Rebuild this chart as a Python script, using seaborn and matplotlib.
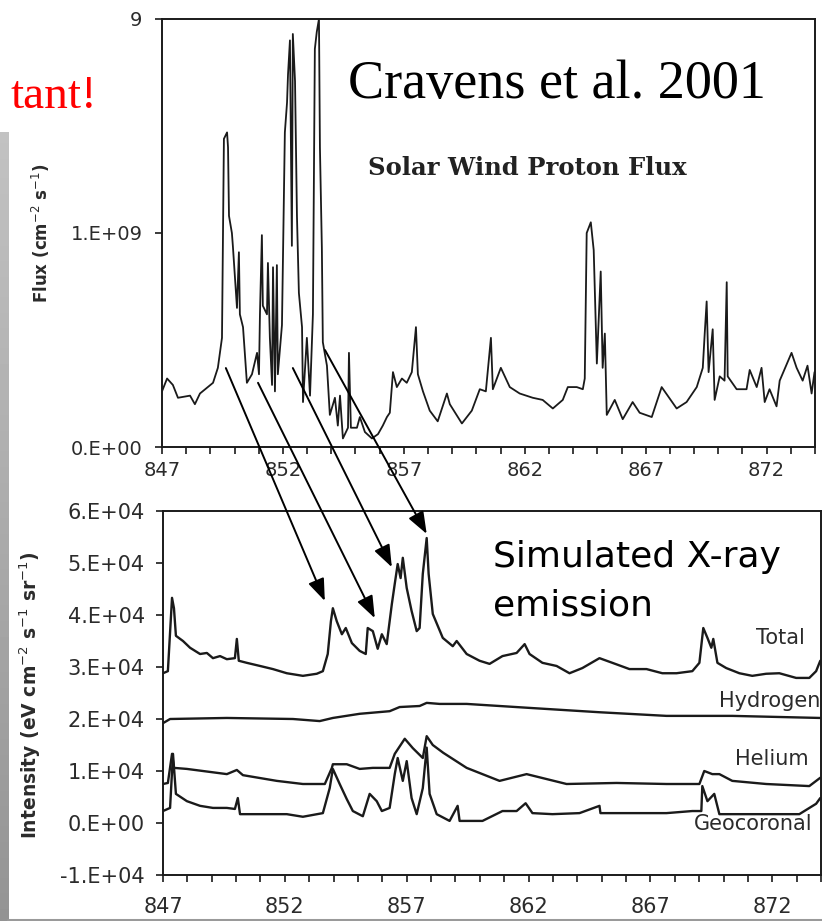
import numpy as np
import pandas as pd
import matplotlib
matplotlib.use("Agg")
import matplotlib.pyplot as plt
import seaborn as sns
from matplotlib.patches import ConnectionPatch
from matplotlib.lines import Line2D

# ---------------- data ----------------
# Top panel: solar wind proton flux (units of 1e9 cm^-2 s^-1) vs day
day_top = [847.00, 847.21, 847.45, 847.66, 848.16, 848.36, 848.57, 849.11, 849.31, 849.48,
           849.56, 849.69, 849.73, 849.77, 849.89, 849.93, 850.10, 850.18, 850.22, 850.35,
           850.51, 850.72, 850.93, 851.01, 851.05, 851.13, 851.17, 851.34, 851.38, 851.46,
           851.55, 851.59, 851.67, 851.75, 851.79, 851.96, 852.08, 852.17, 852.21, 852.29,
           852.37, 852.41, 852.50, 852.58, 852.66, 852.79, 852.83, 852.99, 853.12, 853.24,
           853.32, 853.40, 853.49, 853.53, 853.61, 853.65, 853.82, 853.94, 854.15, 854.27,
           854.36, 854.48, 854.69, 854.73, 854.81, 855.06, 855.18, 855.39, 855.68, 855.93,
           856.13, 856.30, 856.42, 856.55, 856.71, 856.92, 857.12, 857.33, 857.50, 857.58,
           857.79, 858.07, 858.40, 858.78, 858.90, 859.40, 859.81, 860.14, 860.39, 860.60,
           860.68, 861.01, 861.38, 861.79, 862.33, 862.74, 863.16, 863.57, 863.78, 864.15,
           864.40, 864.48, 864.56, 864.73, 864.85, 864.98, 865.14, 865.22, 865.31, 865.39,
           865.72, 866.05, 866.46, 866.75, 867.25, 867.66, 868.28, 868.69, 869.11, 869.36,
           869.44, 869.52, 869.60, 869.77, 869.85, 870.06, 870.26, 870.35, 870.39, 870.76,
           871.17, 871.30, 871.59, 871.79, 871.92, 872.12, 872.41, 872.54, 873.03, 873.24,
           873.49, 873.69, 873.86, 873.98]
flux_e9 = [0.26, 0.32, 0.29, 0.23, 0.24, 0.20, 0.25, 0.30, 0.37, 0.51,
           1.44, 1.47, 1.40, 1.08, 1.00, 0.94, 0.65, 0.91, 0.62, 0.56,
           0.30, 0.34, 0.44, 0.34, 0.62, 0.99, 0.66, 0.62, 0.86, 0.51,
           0.29, 0.84, 0.26, 0.85, 0.34, 0.57, 1.47, 1.61, 1.74, 1.90,
           0.94, 1.93, 1.71, 1.08, 0.72, 0.56, 0.21, 0.51, 0.24, 0.62,
           1.86, 1.94, 2.00, 1.40, 0.93, 0.49, 0.38, 0.15, 0.23, 0.10,
           0.24, 0.04, 0.09, 0.44, 0.09, 0.09, 0.14, 0.07, 0.04, 0.06,
           0.10, 0.14, 0.16, 0.35, 0.28, 0.32, 0.30, 0.35, 0.56, 0.34,
           0.26, 0.17, 0.12, 0.25, 0.20, 0.11, 0.17, 0.27, 0.26, 0.51,
           0.27, 0.37, 0.28, 0.25, 0.23, 0.22, 0.18, 0.22, 0.28, 0.28,
           0.27, 0.32, 1.00, 1.05, 0.92, 0.39, 0.82, 0.37, 0.53, 0.15,
           0.22, 0.13, 0.21, 0.16, 0.14, 0.28, 0.18, 0.21, 0.28, 0.37,
           0.53, 0.68, 0.35, 0.55, 0.22, 0.33, 0.31, 0.77, 0.33, 0.27,
           0.27, 0.36, 0.28, 0.37, 0.21, 0.27, 0.19, 0.31, 0.44, 0.37,
           0.31, 0.38, 0.25, 0.35]

# Bottom panel: simulated X-ray intensity (units of 1e4 eV cm^-2 s^-1 sr^-1)
day_total = [847.00, 847.20, 847.37, 847.45, 847.53, 847.82, 848.11, 848.52, 848.80, 849.05,
             849.34, 849.62, 849.95, 850.03, 850.11, 850.44, 850.98, 851.51, 852.08, 852.74,
             853.31, 853.56, 853.76, 853.89, 853.97, 854.13, 854.34, 854.50, 854.75, 855.07,
             855.32, 855.40, 855.61, 855.81, 855.98, 856.18, 856.39, 856.51, 856.63, 856.75,
             856.84, 857.00, 857.20, 857.41, 857.53, 857.66, 857.82, 857.90, 858.07, 858.48,
             858.89, 859.05, 859.46, 859.99, 860.40, 860.93, 861.51, 861.84, 862.04, 862.57,
             863.15, 863.68, 864.21, 864.91, 865.44, 866.14, 866.84, 867.49, 868.07, 868.72,
             869.01, 869.17, 869.34, 869.50, 869.58, 869.75, 870.11, 870.65, 871.18, 871.75,
             872.29, 872.98, 873.52, 873.80, 873.97]
total_e4 = [2.88, 2.92, 4.33, 4.13, 3.60, 3.50, 3.37, 3.25, 3.27, 3.17,
            3.21, 3.15, 3.17, 3.54, 3.12, 3.08, 3.02, 2.96, 2.88, 2.83,
            2.87, 2.92, 3.25, 3.88, 4.13, 3.88, 3.63, 3.75, 3.46, 3.31,
            3.25, 3.75, 3.69, 3.35, 3.63, 3.44, 4.21, 4.60, 4.98, 4.71,
            5.10, 4.52, 4.08, 3.69, 3.75, 4.79, 5.48, 4.79, 4.02, 3.56,
            3.40, 3.50, 3.25, 3.12, 3.06, 3.21, 3.27, 3.44, 3.25, 3.08,
            3.02, 2.88, 2.98, 3.17, 3.08, 2.96, 2.96, 2.88, 2.88, 2.92,
            3.08, 3.75, 3.56, 3.37, 3.54, 3.08, 2.98, 2.88, 2.83, 2.87,
            2.88, 2.79, 2.79, 2.92, 3.12]

day_hydrogen = [847.00, 847.29, 849.62, 852.33, 853.43, 853.97, 855.07, 856.30, 856.71,
                857.53, 857.82, 858.35, 859.46, 862.16, 864.91, 867.66, 870.36, 873.97]
hydrogen_e4 = [1.92, 2.00, 2.02, 2.00, 1.96, 2.02, 2.10, 2.15, 2.23,
               2.25, 2.31, 2.29, 2.29, 2.21, 2.13, 2.06, 2.06, 2.02]

day_helium = [847.00, 847.20, 847.37, 847.45, 847.98, 849.62, 850.03, 850.28, 851.67, 852.74,
              853.64, 853.93, 853.97, 854.54, 855.07, 855.61, 856.30, 856.51, 856.92, 857.25,
              857.66, 857.82, 858.07, 858.50, 859.46, 860.81, 861.92, 863.56, 865.61, 867.66,
              869.01, 869.21, 869.54, 869.83, 870.36, 871.75, 873.52, 873.97]
helium_e4 = [0.75, 0.77, 1.33, 1.06, 1.04, 0.94, 1.02, 0.92, 0.81, 0.75,
             0.75, 1.06, 1.13, 1.13, 1.04, 1.06, 1.06, 1.33, 1.62, 1.44,
             1.25, 1.67, 1.50, 1.35, 1.06, 0.81, 0.94, 0.75, 0.77, 0.75,
             0.75, 1.00, 0.94, 0.94, 0.81, 0.75, 0.71, 0.87]

day_geo = [847.00, 847.29, 847.41, 847.53, 847.98, 848.52, 849.05, 849.62, 849.95, 850.07,
           850.16, 850.98, 852.08, 852.74, 853.56, 853.84, 853.97, 854.25, 854.54, 854.79,
           855.20, 855.48, 855.77, 855.98, 856.30, 856.51, 856.63, 856.84, 857.00, 857.20,
           857.41, 857.66, 857.82, 857.94, 858.23, 858.76, 859.09, 859.17, 860.11, 860.93,
           861.51, 861.88, 862.16, 862.98, 864.09, 864.91, 864.95, 866.26, 867.66, 868.72,
           869.09, 869.13, 869.34, 869.62, 869.83, 871.06, 873.11, 873.80, 873.97]
geo_e4 = [0.23, 0.29, 1.33, 0.56, 0.42, 0.33, 0.29, 0.29, 0.27, 0.48,
          0.17, 0.17, 0.17, 0.12, 0.19, 0.67, 1.04, 0.75, 0.46, 0.23,
          0.13, 0.56, 0.42, 0.23, 0.29, 0.94, 1.25, 0.81, 1.19, 0.48,
          0.17, 0.67, 1.45, 0.56, 0.17, 0.04, 0.33, 0.04, 0.04, 0.23,
          0.23, 0.38, 0.19, 0.17, 0.19, 0.33, 0.19, 0.19, 0.19, 0.23,
          0.23, 0.71, 0.42, 0.56, 0.17, 0.17, 0.17, 0.37, 0.48]

x_ticks = [847, 852, 857, 862, 867, 872]
top_yticks = [0, 1e9, 2e9]
top_yticklabels = ["0.E+00", "1.E+09", "9"]
bot_yticks = [-1e4, 0, 1e4, 2e4, 3e4, 4e4, 5e4, 6e4]
bot_yticklabels = ["-1.E+04", "0.E+00", "1.E+04", "2.E+04", "3.E+04", "4.E+04", "5.E+04", "6.E+04"]

# arrows: (start day, start flux) -> (end day, end intensity)
arrow_start_day = [849.64, 850.97, 852.41, 853.74]
arrow_start_flux = [0.369e9, 0.30e9, 0.369e9, 0.453e9]
arrow_end_day = [853.64, 855.69, 856.39, 857.82]
arrow_end_int = [4.27e4, 3.94e4, 4.92e4, 5.56e4]

# ---------------- style ----------------
sns.set_style("ticks")
plt.rcParams["font.family"] = ["DejaVu Sans"]
plt.rcParams["mathtext.fontset"] = "dejavusans"

W, H = 822, 921
fig = plt.figure(figsize=(W / 100, H / 100), dpi=100)
fig.patch.set_facecolor("white")

ax1 = fig.add_axes([162 / W, 474 / H, 653 / W, 428 / H])
ax2 = fig.add_axes([163 / W, 46 / H, 658 / W, 364 / H])

ink = "#1a1a1a"
lab = "#2b2b2b"

# top curve
df_top = pd.DataFrame({"day": day_top, "flux": np.array(flux_e9) * 1e9})
sns.lineplot(data=df_top, x="day", y="flux", ax=ax1, color=ink, lw=1.3,
             estimator=None, sort=False)

# bottom curves
for dd, vv in [(day_total, total_e4), (day_hydrogen, hydrogen_e4),
               (day_helium, helium_e4), (day_geo, geo_e4)]:
    d = pd.DataFrame({"day": dd, "inten": np.array(vv) * 1e4})
    sns.lineplot(data=d, x="day", y="inten", ax=ax2, color=ink, lw=1.7,
                 estimator=None, sort=False)

for ax in (ax1, ax2):
    ax.set_xlim(847, 874)
    ax.set_xticks(x_ticks)
    ax.set_xticks(np.arange(847, 875, 1), minor=True)
    ax.set_xticklabels([str(t) for t in x_ticks])
    for s in ax.spines.values():
        s.set_visible(True)
        s.set_color(ink)
        s.set_linewidth(1.4)
    ax.tick_params(which="both", direction="out", length=5, width=1.2, color=ink)
    ax.set_facecolor("white")
    ax.set_xlabel("")

ax1.set_ylim(0, 2e9)
ax1.set_yticks(top_yticks)
ax1.set_yticklabels(top_yticklabels)
ax1.tick_params(axis="x", which="both", labelsize=14, pad=5, labelcolor=lab)
ax1.tick_params(axis="y", labelsize=14, pad=9, labelcolor=lab)
ax1.set_ylabel("Flux (cm$^{-2}$ s$^{-1}$)", fontsize=12, fontweight="bold", color=lab)
ax1.yaxis.set_label_coords(-0.168, 0.5)

ax2.set_ylim(-1e4, 6e4)
ax2.set_yticks(bot_yticks)
ax2.set_yticklabels(bot_yticklabels)
ax2.tick_params(axis="x", which="both", labelsize=15, pad=11, labelcolor=lab)
ax2.tick_params(axis="y", labelsize=15, pad=8, labelcolor=lab)
ax2.set_ylabel("Intensity (eV cm$^{-2}$ s$^{-1}$ sr$^{-1}$)", fontsize=13.5,
               fontweight="bold", color=lab)
ax2.yaxis.set_label_coords(-0.182, 0.495)

# curve labels
ax2.text(872.33, 3.56e4, "Total", fontsize=15, color=lab, ha="center", va="center")
ax2.text(869.83, 2.35e4, "Hydrogen", fontsize=15, color=lab, ha="left", va="center", clip_on=False)
ax2.text(872.0, 1.23e4, "Helium", fontsize=15, color=lab, ha="center", va="center")
ax2.text(868.80, -0.02e4, "Geocoronal", fontsize=15, color=lab, ha="left", va="center", clip_on=False)

# overlay texts
fig.text(97 / W, 1 - 108 / H, "tant!", color="red", family="Liberation Serif",
         fontsize=34, ha="right", va="baseline")
fig.text(348 / W, 1 - 98 / H, "Cravens et al. 2001", color="black",
         family="Liberation Serif", fontsize=39, ha="left", va="baseline")
fig.text(368 / W, 1 - 168 / H, "Solar Wind Proton Flux", color="#222222",
         family="DejaVu Serif", fontweight="bold", fontsize=17.5, ha="left", va="center")
fig.text(493 / W, 1 - 567 / H, "Simulated X-ray", color="black",
         family="DejaVu Sans", fontsize=26, ha="left", va="baseline")
fig.text(493 / W, 1 - 615 / H, "emission", color="black",
         family="DejaVu Sans", fontsize=26, ha="left", va="baseline")

# arrows from flux peaks to emission peaks
for sx, sy, ex, ey in zip(arrow_start_day, arrow_start_flux, arrow_end_day, arrow_end_int):
    con = ConnectionPatch(xyA=(sx, sy), coordsA=ax1.transData,
                          xyB=(ex, ey), coordsB=ax2.transData,
                          arrowstyle="-|>,head_length=0.45,head_width=0.17",
                          mutation_scale=30, color="black", lw=1.4,
                          shrinkA=0, shrinkB=0)
    fig.add_artist(con)

# slide decoration: gray left bar with gradient and bottom line
bar = fig.add_axes([0, 0, 8 / W, (H - 132) / H])
grad = np.linspace(0.76, 0.58, 200).reshape(-1, 1)
bar.imshow(grad, cmap="gray", vmin=0, vmax=1, aspect="auto")
bar.set_axis_off()
fig.add_artist(Line2D([8 / W, 1], [1.5 / H, 1.5 / H], color="#9a9a9a", lw=2.2))

fig.savefig("out.png", dpi=100)
